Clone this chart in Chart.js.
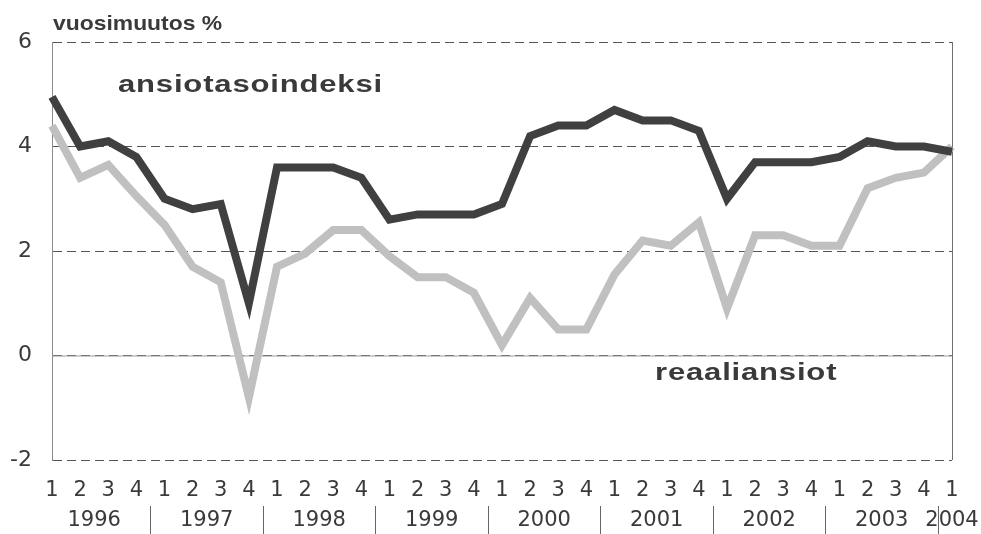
<!DOCTYPE html>
<html>
<head>
<meta charset="utf-8">
<script src="https://cdn.jsdelivr.net/npm/chart.js@4/dist/chart.umd.min.js"></script>
<style>
  html, body { margin: 0; padding: 0; background: #fff; }
  #wrap { width: 981px; height: 534px; }
</style>
</head>
<body>
<div id="wrap"><canvas id="chart" width="981" height="534"></canvas></div>
<script>
// quarters 1996Q1 .. 2004Q1
const quarters = ['1','2','3','4','1','2','3','4','1','2','3','4','1','2','3','4',
  '1','2','3','4','1','2','3','4','1','2','3','4','1','2','3','4','1'];
const years = ['1996','1997','1998','1999','2000','2001','2002','2003','2004'];

// annual change %
const ansiotasoindeksi = [4.95, 4.0, 4.1, 3.8, 3.0, 2.8, 2.9, 1.0,
  3.6, 3.6, 3.6, 3.4, 2.6, 2.7, 2.7, 2.7,
  2.9, 4.2, 4.4, 4.4, 4.7, 4.5, 4.5, 4.3,
  3.0, 3.7, 3.7, 3.7, 3.8, 4.1, 4.0, 4.0, 3.9];
const reaaliansiot = [4.4, 3.4, 3.65, 3.05, 2.5, 1.7, 1.4, -0.8,
  1.7, 1.95, 2.4, 2.4, 1.9, 1.5, 1.5, 1.2,
  0.2, 1.1, 0.5, 0.5, 1.55, 2.2, 2.1, 2.55,
  0.9, 2.3, 2.3, 2.1, 2.1, 3.2, 3.4, 3.5, 4.0];

const textColor = '#3a3a3a';

// bold, slightly stretched series names
function stretchedText(ctx, str, x, y, size, sx, spacing) {
  ctx.save();
  ctx.translate(x, y);
  ctx.scale(sx, 1);
  ctx.font = 'bold ' + size + 'px "Liberation Sans", Arial, sans-serif';
  ctx.letterSpacing = spacing + 'px';
  ctx.fillStyle = textColor;
  ctx.textAlign = 'left';
  ctx.textBaseline = 'alphabetic';
  ctx.fillText(str, 0, 0);
  ctx.restore();
}

const extras = {
  id: 'extras',
  beforeDatasetsDraw(chart) {
    const ctx = chart.ctx;
    const area = chart.chartArea;
    const y = chart.scales.y;
    // solid zero line under the dashes
    const y0 = y.getPixelForValue(0);
    ctx.save();
    ctx.strokeStyle = '#9a9a9a';
    ctx.lineWidth = 1;
    ctx.beginPath();
    ctx.moveTo(area.left, y0 + 0.5);
    ctx.lineTo(area.right, y0 + 0.5);
    ctx.stroke();
    // right frame
    ctx.strokeStyle = '#707070';
    ctx.beginPath();
    ctx.moveTo(area.right + 0.5, area.top);
    ctx.lineTo(area.right + 0.5, area.bottom);
    ctx.stroke();
    ctx.restore();
  },
  afterDraw(chart) {
    const ctx = chart.ctx;
    const x = chart.scales.x;
    ctx.save();
    // year labels
    ctx.font = '21px "DejaVu Sans", sans-serif';
    ctx.fillStyle = textColor;
    ctx.textAlign = 'center';
    ctx.textBaseline = 'middle';
    years.forEach((yr, k) => {
      let cx;
      if (4 * k + 2 < quarters.length) {
        cx = (x.getPixelForValue(4 * k + 1) + x.getPixelForValue(4 * k + 2)) / 2;
      } else {
        cx = x.getPixelForValue(4 * k);
      }
      ctx.fillText(yr, cx, 521);
    });
    // separators between years
    ctx.strokeStyle = '#666';
    ctx.lineWidth = 1;
    for (let k = 0; k < years.length - 1; k++) {
      const sx = Math.round((x.getPixelForValue(4 * k + 3) + x.getPixelForValue(4 * k + 4)) / 2) + 0.5;
      ctx.beginPath();
      ctx.moveTo(sx, 506);
      ctx.lineTo(sx, 534);
      ctx.stroke();
    }
    ctx.restore();

    stretchedText(ctx, 'vuosimuutos %', 53, 30, 21, 1.09, 0);
    stretchedText(ctx, 'ansiotasoindeksi', 118, 92, 23, 1.35, 0.6);
    stretchedText(ctx, 'reaaliansiot', 655, 380, 23, 1.35, 0.6);
  }
};

new Chart(document.getElementById('chart'), {
  type: 'line',
  data: {
    labels: quarters,
    datasets: [
      {
        label: 'ansiotasoindeksi',
        data: ansiotasoindeksi,
        borderColor: '#404040',
        borderWidth: 8,
        borderJoinStyle: 'miter',
        pointRadius: 0,
        tension: 0,
        fill: false
      },
      {
        label: 'reaaliansiot',
        data: reaaliansiot,
        borderColor: '#c0c0c0',
        borderWidth: 8,
        borderJoinStyle: 'miter',
        pointRadius: 0,
        tension: 0,
        fill: false
      }
    ]
  },
  options: {
    responsive: false,
    animation: false,
    layout: { padding: { left: 0, right: 29, top: 42, bottom: 0 } },
    plugins: {
      legend: { display: false },
      tooltip: { enabled: false }
    },
    scales: {
      x: {
        offset: false,
        grid: { display: false, drawTicks: false },
        border: { display: false },
        ticks: {
          autoSkip: false,
          maxRotation: 0,
          padding: 18,
          color: textColor,
          font: { family: '"DejaVu Sans", sans-serif', size: 21 }
        },
        afterFit: s => { s.height = 74; }
      },
      y: {
        min: -2,
        max: 6,
        ticks: {
          stepSize: 2,
          padding: 20,
          color: textColor,
          font: { family: '"DejaVu Sans", sans-serif', size: 22 }
        },
        grid: { color: '#555', lineWidth: 1, drawTicks: false },
        border: { display: true, color: '#8a8a8a', width: 1, dash: [9, 5] },
        afterFit: s => { s.width = 52; }
      }
    }
  },
  plugins: [extras]
});
</script>
</body>
</html>
